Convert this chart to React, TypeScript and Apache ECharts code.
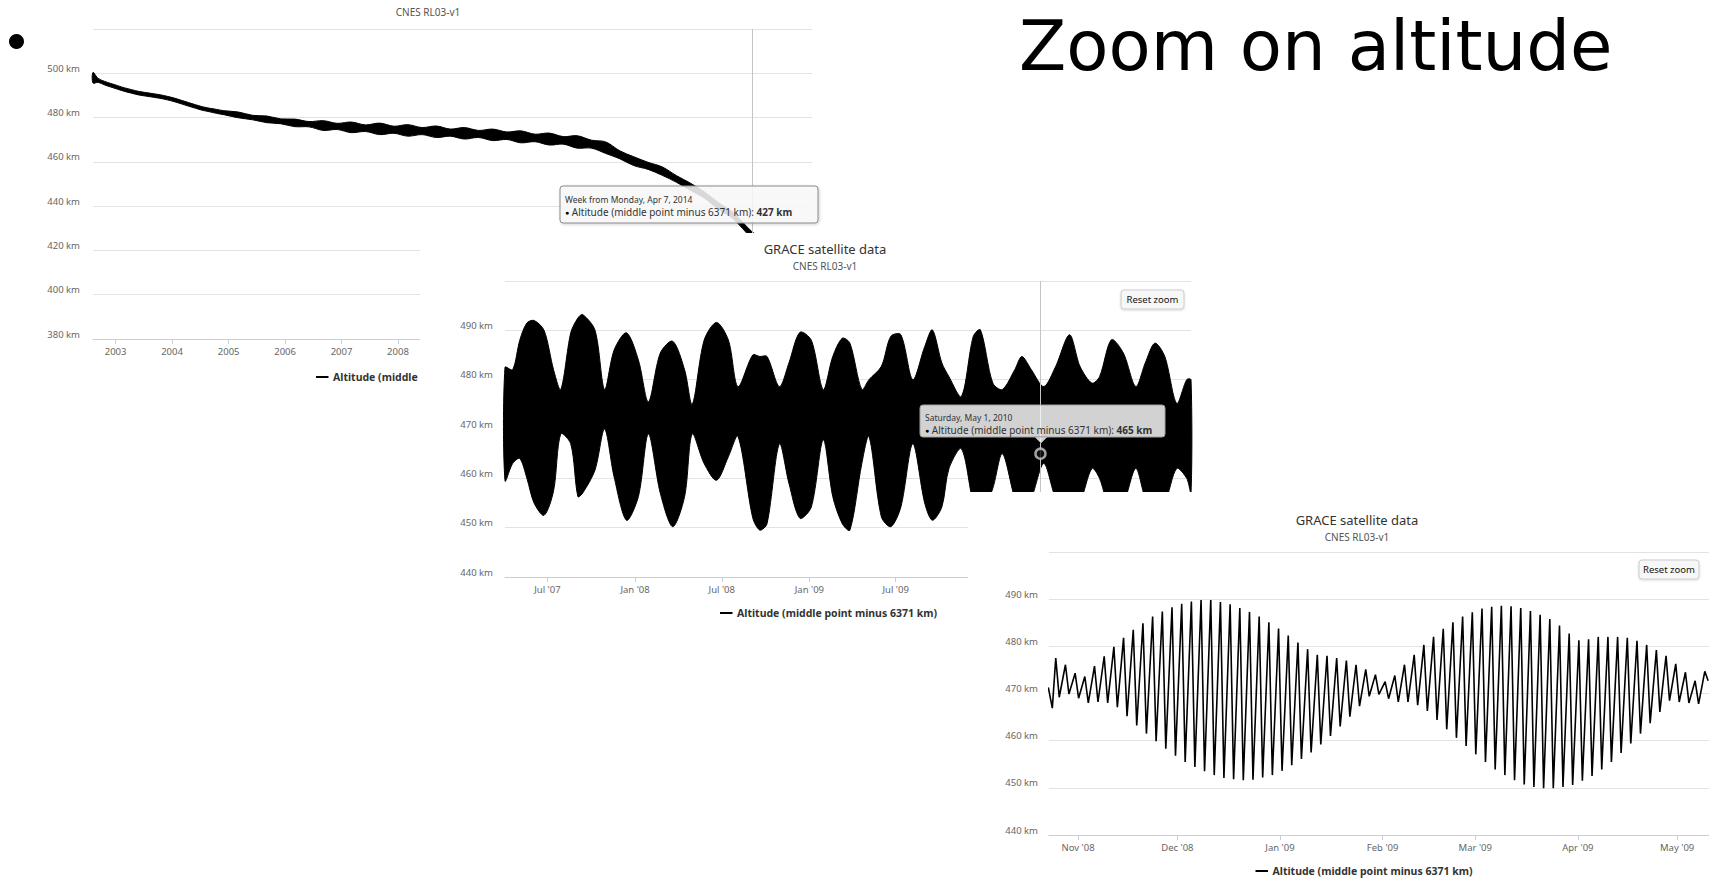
import React, { useEffect, useRef } from 'react';
import * as echarts from 'echarts';

const FONT = '"Noto Sans", "Open Sans", sans-serif';
const DAY = 24 * 3600 * 1000;
const ts = (s: string) => Date.parse(s.length === 10 ? s + 'T00:00:00Z' : s + 'Z');

const SERIES_NAME = 'Altitude (middle point minus 6371 km)';
const MONTHS = ['Jan', 'Feb', 'Mar', 'Apr', 'May', 'Jun', 'Jul', 'Aug', 'Sep', 'Oct', 'Nov', 'Dec'];
const WEEKDAYS = ['Sunday', 'Monday', 'Tuesday', 'Wednesday', 'Thursday', 'Friday', 'Saturday'];

// ---- Overview: whole mission, weekly altitude (centre of the band and its half width, km)
const overviewDates = [
  '2002-08-08', '2002-09-10', '2002-10-20', '2002-12-01', '2003-01-15', '2003-03-01', '2003-04-15',
  '2003-06-01', '2003-07-15', '2003-09-01', '2003-10-15', '2003-12-01', '2004-01-15', '2004-03-01',
  '2004-04-15', '2004-06-01', '2004-07-15', '2004-09-01', '2004-10-15', '2004-12-01', '2005-03-05',
  '2005-06-05', '2005-09-05', '2005-12-05', '2006-03-05', '2006-06-05', '2006-09-05', '2006-12-05',
  '2007-03-05', '2007-06-05', '2007-09-05', '2007-12-05', '2008-03-05', '2008-06-05', '2008-09-05',
  '2008-12-05', '2009-03-05', '2009-06-05', '2009-09-05', '2009-12-05', '2010-03-05', '2010-06-05',
  '2010-09-05', '2010-12-05', '2011-03-05', '2011-06-05', '2011-09-05', '2011-12-05', '2012-03-05',
  '2012-06-05', '2012-09-05', '2012-12-05', '2013-03-05', '2013-06-05', '2013-09-05', '2013-12-05',
  '2014-04-07', '2014-07-01',
];
const overviewAltitude = [
  498.0, 496.8, 495.6, 494.6, 493.6, 492.6, 491.8,
  491.0, 490.5, 490.0, 489.5, 488.8, 488.0, 487.0,
  486.0, 485.0, 484.1, 483.4, 482.8, 482.2, 481.2,
  480.0, 479.2, 478.3, 477.6, 477.0, 476.4, 476.0,
  475.6, 475.2, 474.9, 474.5, 474.2, 473.9, 473.6,
  473.2, 472.9, 472.6, 472.2, 471.8, 471.3, 470.8,
  470.3, 469.7, 469.0, 468.0, 466.4, 463.2, 460.3,
  458.2, 455.8, 452.3, 448.8, 445.0, 440.0, 435.8,
  427.0, 422.5,
];
const overviewSpread = [
  2.4, 0.9, 0.8, 0.8, 0.8, 0.8, 0.8,
  0.8, 0.8, 0.8, 0.8, 0.8, 0.8, 0.8,
  0.8, 0.8, 0.8, 0.8, 0.9, 0.9, 1.3,
  1.0, 1.5, 1.1, 1.7, 1.2, 2.2, 1.4,
  2.4, 1.5, 2.6, 1.6, 2.6, 1.6, 2.6,
  1.6, 2.6, 1.6, 2.6, 1.7, 2.7, 1.7,
  2.7, 1.7, 2.8, 1.8, 2.6, 1.8, 2.0,
  1.6, 1.9, 1.5, 1.6, 1.4, 1.5, 1.4,
  1.5, 1.5,
];
const overviewTicks = [
  '2003-01-01', '2004-01-01', '2005-01-01', '2006-01-01', '2007-01-01', '2008-01-01', '2009-01-01',
  '2010-01-01', '2011-01-01', '2012-01-01', '2013-01-01', '2014-01-01', '2015-01-01',
];
const overviewHoverDate = '2014-04-07';

// ---- First zoom: Apr 2007 - Mar 2011, upper and lower envelope of the daily altitude (km)
const envelopeDates = [
  '2007-04-03', '2007-04-19', '2007-05-04', '2007-05-19', '2007-06-03', '2007-06-24', '2007-07-14',
  '2007-07-29', '2007-08-19', '2007-09-03', '2007-09-13', '2007-10-09', '2007-10-29', '2007-11-18',
  '2007-12-14', '2008-01-08', '2008-01-29', '2008-02-23', '2008-03-20', '2008-04-14', '2008-04-30',
  '2008-05-25', '2008-06-20', '2008-07-15', '2008-08-04', '2008-09-04', '2008-09-19', '2008-10-04',
  '2008-10-30', '2008-11-19', '2008-12-12', '2009-01-05', '2009-01-30', '2009-02-19', '2009-03-11',
  '2009-03-27', '2009-04-21', '2009-05-06', '2009-06-01', '2009-06-21', '2009-07-12', '2009-08-06',
  '2009-08-31', '2009-09-16', '2009-10-06', '2009-10-21', '2009-11-16', '2009-12-11', '2009-12-26',
  '2010-01-21', '2010-02-10', '2010-03-08', '2010-03-23', '2010-04-12', '2010-05-08', '2010-06-02',
  '2010-07-01', '2010-07-23', '2010-08-17', '2010-09-02', '2010-09-27', '2010-10-22', '2010-11-17',
  '2010-12-07', '2010-12-27', '2011-01-17', '2011-02-11', '2011-03-04', '2011-03-13',
];
const envelopeHigh = [
  482.5, 482.0, 488.0, 491.5, 492.0, 490.0, 482.0,
  478.0, 489.5, 492.5, 493.2, 490.0, 478.0, 486.0,
  489.5, 484.0, 475.5, 485.4, 487.8, 482.0, 475.0,
  488.0, 491.6, 488.0, 478.6, 485.0, 484.7, 484.7,
  478.6, 483.4, 489.6, 488.0, 478.0, 484.7, 488.4,
  487.4, 478.0, 480.0, 482.7, 488.8, 489.1, 480.0,
  486.7, 490.1, 483.4, 480.6, 476.6, 488.8, 490.1,
  479.3, 478.0, 482.0, 484.7, 482.0, 478.6, 482.7,
  489.1, 482.7, 479.3, 480.6, 488.1, 485.4, 478.6,
  483.4, 487.4, 484.7, 475.2, 480.0, 480.0,
];
const envelopeLow = [
  459.5, 463.0, 464.0, 460.0, 455.0, 452.5, 457.5,
  469.0, 467.0, 456.3, 457.0, 461.7, 470.0, 460.3,
  451.5, 456.3, 469.0, 457.0, 450.2, 456.3, 469.0,
  463.0, 459.6, 464.4, 468.5, 452.0, 449.5, 450.8,
  467.0, 459.0, 451.9, 454.2, 467.8, 456.3, 450.8,
  449.5, 463.0, 468.5, 452.2, 450.2, 454.2, 467.0,
  455.0, 451.5, 454.2, 462.0, 466.0, 455.0, 452.0,
  458.0, 465.0, 456.0, 453.0, 456.0, 463.0, 456.0,
  452.0, 455.0, 462.0, 460.0, 453.0, 455.0, 462.0,
  456.0, 453.0, 455.0, 462.0, 460.0, 457.0,
];
const envelopeTicks = [
  '2007-07-01', '2008-01-01', '2008-07-01', '2009-01-01', '2009-07-01', '2010-01-01', '2010-07-01', '2011-01-01',
];
const envelopeHover = { date: '2010-05-01', value: 465 };

// ---- Second zoom: Oct 2008 - May 2009, crests and troughs of the daily altitude (km)
const detailLeadTimes = ['2008-10-23T00:00', '2008-10-24T05:00'];
const detailLead = [471.3, 466.9];
const detailFirstCrest = '2008-10-25T06:00';
const detailCycleDays = 2.927;
const detailFallDays = 1.05;
const detailCrests = [
  477.5, 476.1, 474.3, 473.6, 475.8, 477.9, 479.9, 481.8, 483.5, 484.9, 486.3, 487.4, 488.3, 489.0,
  489.5, 489.8, 489.8, 489.4, 488.9, 488.1, 487.3, 486.3,
  485.1, 483.8, 482.3, 480.8, 479.4, 478.2, 478.0, 477.5, 477.0, 476.1, 475.1, 474.0, 472.5, 473.8,
  476.1, 478.2, 480.3, 482.0, 483.7, 485.1, 486.3, 487.2, 488.0,
  488.4, 488.6, 488.5, 488.1, 487.5, 486.7, 485.8, 484.4, 482.7, 481.3, 481.5, 482.0, 482.0, 482.0,
  481.8, 481.2, 480.3, 479.2, 478.0, 476.3, 474.5, 472.7, 474.7,
];
const detailTroughs = [
  469.2, 469.9, 469.0, 468.0, 468.2, 468.0, 467.1, 465.2, 463.2, 461.5, 459.9, 458.3, 456.8, 455.5,
  454.4, 453.5, 452.7, 452.1, 451.8, 451.6, 451.7, 452.2,
  452.7, 453.6, 454.8, 456.1, 457.5, 459.2, 461.0, 463.0, 465.1, 467.3, 469.4, 469.8, 468.9, 468.2,
  468.2, 467.5, 466.3, 464.4, 462.4, 460.6, 458.9, 457.1, 455.5,
  453.9, 452.7, 451.6, 450.7, 450.2, 449.9, 449.9, 450.2, 450.6, 451.5, 452.5, 453.9, 455.5, 457.4,
  459.4, 461.5, 463.7, 466.1, 468.5, 468.2, 468.0, 467.8,
];
const detailTail = 472.7;
const detailTicks = [
  '2008-11-01', '2008-12-01', '2009-01-01', '2009-02-01', '2009-03-01', '2009-04-01', '2009-05-01',
];

// ---------------------------------------------------------------------------------------------

const yearLabel = (v: number) => String(new Date(v).getUTCFullYear());
const monthLabel = (v: number) => {
  const d = new Date(v);
  return `${MONTHS[d.getUTCMonth()]} '${String(d.getUTCFullYear()).slice(2)}`;
};
const longDate = (s: string) => {
  const d = new Date(ts(s));
  return `${WEEKDAYS[d.getUTCDay()]}, ${MONTHS[d.getUTCMonth()]} ${d.getUTCDate()}, ${d.getUTCFullYear()}`;
};

// x axes hold timestamps (ms); ticks and labels sit on the given calendar dates
const xAxisFor = (gridIndex: number, min: string, max: string, ticks: string[], fmt: (v: number) => string, z: number) => ({
  type: 'value',
  gridIndex,
  min: ts(min),
  max: ts(max),
  z,
  axisLine: { show: true, onZero: false, lineStyle: { color: '#C0D0E0', width: 1 } },
  axisTick: { show: true, customValues: ticks.map(ts), length: 5, lineStyle: { color: '#C0D0E0', width: 1 } },
  axisLabel: {
    customValues: ticks.map(ts),
    formatter: fmt,
    color: '#666',
    fontSize: 9.5,
    margin: 7,
    fontFamily: FONT,
    hideOverlap: false,
  },
  splitLine: { show: false },
});

const yAxisFor = (gridIndex: number, min: number, max: number, interval: number, z: number, margin: number) => ({
  type: 'value',
  gridIndex,
  min,
  max,
  interval,
  z,
  axisLine: { show: false },
  axisTick: { show: false },
  splitLine: { show: true, lineStyle: { color: '#E3E3E3', width: 1 } },
  axisLabel: {
    formatter: (v: number) => (v === max ? '' : `${v} km`),
    color: '#666',
    fontSize: 9.5,
    margin,
    verticalAlign: 'bottom',
    fontFamily: FONT,
  },
});

const crosshair = (date: string, z: number) => ({
  z,
  silent: true,
  symbol: ['none', 'none'],
  label: { show: false },
  emphasis: { disabled: true },
  lineStyle: { color: '#C4C4C4', width: 1, type: 'solid' },
  data: [{ xAxis: ts(date) }],
});

// filled band between a lower and an upper edge, drawn once through the axis scales
const bandSeries = (axisIndex: number, times: number[], low: number[], high: number[], z: number, smooth: number) => ({
  name: SERIES_NAME,
  type: 'custom',
  xAxisIndex: axisIndex,
  yAxisIndex: axisIndex,
  z,
  silent: true,
  data: times.map((t, i) => [t, low[i], high[i]]),
  encode: { x: 0, y: [1, 2] },
  renderItem: (params: any, api: any) => {
    if (params.dataIndex !== 0) return null;
    const top = times.map((t, i) => api.coord([t, high[i]]));
    const bottom = times.map((t, i) => api.coord([t, low[i]])).reverse();
    return {
      type: 'polygon',
      shape: { points: top.concat(bottom), smooth },
      style: { fill: '#000', stroke: '#000', lineWidth: 1 },
    };
  },
});

const text = (x: number, y: number, t: string, fontSize: number, fill: string, z: number, extra: any = {}) => ({
  type: 'text',
  x,
  y,
  z,
  silent: true,
  style: { text: t, fontSize, fill, fontFamily: FONT, align: 'left', verticalAlign: 'middle', ...extra },
});

const legendItem = (x: number, y: number, z: number, clipWidth?: number) => [
  { type: 'line', z, silent: true, shape: { x1: x, y1: y, x2: x + 12.5, y2: y }, style: { stroke: '#000', lineWidth: 2 } },
  text(
    x + 17, y, SERIES_NAME, 10.5, '#333', z,
    clipWidth ? { fontWeight: 'bold', width: clipWidth, overflow: 'truncate', ellipsis: '' } : { fontWeight: 'bold' },
  ),
];

const resetButton = (x: number, y: number, w: number, h: number, z: number) => [
  {
    type: 'rect', z, silent: true,
    shape: { x, y, width: w, height: h, r: 3 },
    style: { fill: '#F7F7F7', stroke: '#CCCCCC', lineWidth: 1, shadowBlur: 2, shadowColor: 'rgba(0,0,0,0.15)', shadowOffsetY: 1 },
  },
  text(x + w / 2, y + h / 2, 'Reset zoom', 9.5, '#111', z, { align: 'center' }),
];

const tooltipLines = (x: number, y1: number, y2: number, header: string, value: number, z: number) => [
  text(x, y1, header, 8.5, '#333', z),
  text(x, y2, `{dot|\u25CF} ${SERIES_NAME}: {val|${value} km}`, 10, '#333', z, {
    rich: {
      dot: { fontSize: 7, fill: '#000', fontFamily: FONT },
      val: { fontSize: 10, fontWeight: 'bold', fill: '#333', fontFamily: FONT },
    },
  }),
];

export default function App() {
  const ref = useRef<HTMLDivElement>(null);

  useEffect(() => {
    if (!ref.current) return;
    document.body.style.margin = '0';
    document.body.style.overflow = 'hidden';
    const chart = echarts.init(ref.current, undefined, { renderer: 'svg' });

    const ovTimes = overviewDates.map(ts);
    const ovLow = overviewAltitude.map((v, i) => v - overviewSpread[i]);
    const ovHigh = overviewAltitude.map((v, i) => v + overviewSpread[i]);
    const ovHoverValue = overviewAltitude[overviewDates.indexOf(overviewHoverDate)];

    const envTimes = envelopeDates.map(ts);

    const detailData: number[][] = detailLead.map((v, i) => [ts(detailLeadTimes[i]), v]);
    const crest0 = ts(detailFirstCrest);
    detailCrests.forEach((v, k) => {
      const t = crest0 + k * detailCycleDays * DAY;
      detailData.push([t, v]);
      if (k < detailTroughs.length) detailData.push([t + detailFallDays * DAY, detailTroughs[k]]);
    });
    detailData.push([crest0 + (detailCrests.length - 1) * detailCycleDays * DAY + DAY, detailTail]);

    const option: any = {
      animation: false,
      textStyle: { fontFamily: FONT },
      grid: [
        { left: 93, top: 29, width: 719, height: 310 },
        { left: 505, top: 281, width: 686, height: 296 },
        { left: 1049, top: 552, width: 660, height: 283 },
      ],
      xAxis: [
        xAxisFor(0, '2002-08-08', '2015-05-01', overviewTicks, yearLabel, 2),
        xAxisFor(1, '2007-04-03', '2011-03-13', envelopeTicks, monthLabel, 12),
        xAxisFor(2, '2008-10-23T05:00', '2009-05-10T15:00', detailTicks, monthLabel, 22),
      ],
      yAxis: [
        yAxisFor(0, 380, 520, 20, 1, 13),
        yAxisFor(1, 440, 500, 10, 11, 12),
        yAxisFor(2, 440, 500, 10, 21, 11),
      ],
      series: [
        bandSeries(0, ovTimes, ovLow, ovHigh, 3, 0.35),
        {
          name: 'overview-hover', type: 'line', xAxisIndex: 0, yAxisIndex: 0, z: 3, silent: true,
          data: [[ts(overviewHoverDate), ovHoverValue]], showSymbol: false, symbol: 'none',
          lineStyle: { opacity: 0 },
          markLine: crosshair(overviewHoverDate, 4),
        },
        bandSeries(1, envTimes, envelopeLow, envelopeHigh, 13, 0.3),
        {
          name: 'hover', type: 'scatter', xAxisIndex: 1, yAxisIndex: 1, z: 15, silent: true,
          data: [[ts(envelopeHover.date), envelopeHover.value]],
          symbolSize: 10,
          itemStyle: { color: '#111', borderColor: '#C8C8C8', borderWidth: 2.5 },
          markLine: crosshair(envelopeHover.date, 14),
        },
        {
          name: SERIES_NAME, type: 'line', xAxisIndex: 2, yAxisIndex: 2,
          data: detailData, showSymbol: false, symbol: 'none', z: 23, silent: true,
          lineStyle: { color: '#000', width: 1.6 },
        },
      ],
      graphic: [
        // overview chart annotations
        text(428, 12, 'CNES RL03-v1', 10, '#555', 5, { align: 'center' }),
        ...legendItem(316, 377, 5, 87),
        {
          type: 'rect', z: 5, silent: true,
          shape: { x: 560, y: 186, width: 258, height: 37, r: 3 },
          style: { fill: 'rgba(250,250,250,0.85)', stroke: '#8A8A8A', lineWidth: 1, shadowBlur: 3, shadowColor: 'rgba(0,0,0,0.2)', shadowOffsetX: 1, shadowOffsetY: 1 },
        },
        ...tooltipLines(565, 199, 212, `Week from ${longDate(overviewHoverDate)}`, ovHoverValue, 5),

        // first zoom card
        { type: 'rect', z: 10, silent: true, shape: { x: 420, y: 233, width: 790, height: 400 }, style: { fill: '#FFFFFF' } },
        text(825, 249, 'GRACE satellite data', 13, '#333', 16, { align: 'center' }),
        text(825, 266, 'CNES RL03-v1', 10, '#555', 16, { align: 'center' }),
        ...resetButton(1121, 290, 63, 19, 16),
        ...legendItem(720, 613, 16),
        {
          type: 'rect', z: 16, silent: true,
          shape: { x: 920, y: 405, width: 245, height: 32, r: 3 },
          style: { fill: 'rgba(247,247,247,0.85)', stroke: '#A0A0A0', lineWidth: 1 },
        },
        {
          type: 'polygon', z: 16, silent: true,
          shape: { points: [[1035, 437], [1041, 443], [1047, 437]] },
          style: { fill: 'rgba(247,247,247,0.85)', stroke: '#A0A0A0', lineWidth: 1 },
        },
        ...tooltipLines(925, 417, 430, longDate(envelopeHover.date), envelopeHover.value, 16),

        // second zoom card
        { type: 'rect', z: 20, silent: true, shape: { x: 968, y: 492, width: 741, height: 387 }, style: { fill: '#FFFFFF' } },
        text(1357, 520, 'GRACE satellite data', 13, '#333', 24, { align: 'center' }),
        text(1357, 537, 'CNES RL03-v1', 10, '#555', 24, { align: 'center' }),
        ...resetButton(1639, 560, 60, 19, 24),
        ...legendItem(1255.5, 871, 24),

        // slide heading
        { type: 'circle', z: 30, silent: true, shape: { cx: 16.5, cy: 41.5, r: 7.5 }, style: { fill: '#000' } },
        {
          type: 'text', x: 1019, y: 46, z: 30, silent: true,
          style: { text: 'Zoom on altitude', fontSize: 69, fontFamily: '"DejaVu Sans", sans-serif', fill: '#000', align: 'left', verticalAlign: 'middle' },
        },
      ],
    };

    chart.setOption(option);
    return () => chart.dispose();
  }, []);

  return (
    <div
      ref={ref}
      style={{ position: 'absolute', left: 0, top: 0, width: 1709, height: 879, background: '#fff' }}
    />
  );
}
